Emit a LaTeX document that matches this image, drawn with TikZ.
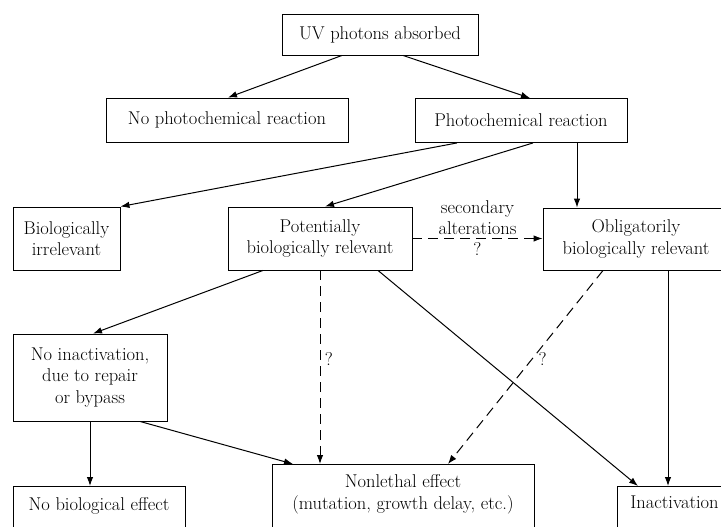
\documentclass[tikz,border=0pt]{standalone}
\usepackage{tikz}
\usetikzlibrary{arrows.meta,positioning,calc}

\begin{document}
\begin{tikzpicture}[
  x=1pt,y=-1pt,
  every node/.style={font=\fontsize{18.5}{21.5}\selectfont,align=center},
  box/.style={draw,line width=0.9pt,inner sep=4pt},
  openbox/.style={box,anchor=north,text depth=60pt},
  arr/.style={-{Latex[length=9pt,width=6.5pt]},line width=1pt},
  dasharr/.style={arr,dash pattern=on 10pt off 6pt}
]
\useasboundingbox (0,0) rectangle (721,527);
\clip (0,0) rectangle (721,527);
\node[box,minimum width=196pt,minimum height=41pt] (uv) at (380,34.5) {UV photons absorbed};
\node[box,minimum width=242pt,minimum height=44pt] (nophoto) at (227,120) {No photochemical reaction};
\node[box,minimum width=212pt,minimum height=44pt] (photo) at (521,120.5) {Photochemical reaction};
\node[box,minimum width=107pt,minimum height=63pt] (irrel) at (66.5,238.5) {Biologically\\irrelevant};
\node[box,minimum width=184pt,minimum height=63pt] (potent) at (320,238.5) {Potentially\\biologically relevant};
\node[box,minimum width=186pt,minimum height=62pt] (oblig) at (636,239) {Obligatorily\\biologically relevant};
\node[box,minimum width=154pt,minimum height=87pt] (noinact) at (90,377.5) {No inactivation,\\due to repair\\or bypass};
\node[openbox,minimum width=172pt,text height=20pt] (nobio) at (99,486) {No biological effect};
\node[openbox,minimum width=262pt,text height=41pt] (nonlethal) at (403,464) {Nonlethal effect\\(mutation, growth delay, etc.)};
\node[openbox,minimum width=115pt,text height=18pt] (inact) at (674.5,486) {Inactivation};

\draw[arr] ([xshift=-38pt]uv.south) -- ([xshift=1pt]nophoto.north);
\draw[arr] ([xshift=23pt]uv.south) -- ([xshift=9pt]photo.north);
\draw[arr] ([xshift=-64pt]photo.south) -- (irrel.north east);
\draw[arr] ([xshift=12pt]photo.south) -- ([xshift=5pt]potent.north);
\draw[arr] ([xshift=56pt]photo.south) -- ([xshift=56pt]photo.south |- oblig.north);
\draw[dasharr] (potent.east) -- (potent.east -| oblig.west)
  node[midway,above] {secondary\\alterations} node[midway,below] {?};
\draw[arr] ([xshift=-57pt]potent.south) -- ([xshift=3pt]noinact.north);
\draw[dasharr] (potent.south) -- (potent.south |- nonlethal.north)
  node[pos=0.46,right=1pt] {?};
\draw[arr] ([xshift=58pt]potent.south) -- ([xshift=-36.5pt]inact.north);
\draw[dasharr] ([xshift=-33pt]oblig.south) -- ([xshift=45pt]nonlethal.north)
  node[pos=0.46,right=3pt] {?};
\draw[arr] ([xshift=32pt]oblig.south) -- ([xshift=32pt]oblig.south |- inact.north);
\draw[arr] (noinact.south) -- (noinact.south |- nobio.north);
\draw[arr] ([xshift=50pt]noinact.south) -- ([xshift=-110pt]nonlethal.north);
\end{tikzpicture}
\end{document}
